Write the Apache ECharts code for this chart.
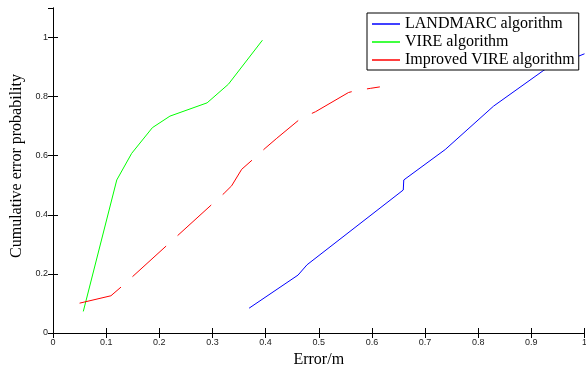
<!DOCTYPE html>
<html><head><meta charset="utf-8">
<script src="https://cdn.jsdelivr.net/npm/echarts@6/dist/echarts.min.js"></script>
<style>html,body{margin:0;padding:0;background:#fff}#c{width:586px;height:365px}</style>
</head><body><div id="c"></div>
<script>
const seriesNames = ['LANDMARC algorithm', 'VIRE algorithm', 'Improved VIRE algorithm'];
const landmarc = [[0.369,0.084],[0.461,0.196],[0.478,0.231],[0.659,0.484],[0.66,0.518],[0.738,0.621],[0.829,0.768],[0.924,0.89],[1.0,0.945]];
const vire = [[0.057,0.073],[0.12,0.518],[0.148,0.608],[0.187,0.695],[0.22,0.734],[0.29,0.779],[0.33,0.842],[0.394,0.991]];
const improved = [[0.05,0.101],[0.109,0.126],[0.129,0.157],[0.322,0.473],[0.336,0.498],[0.355,0.554],[0.377,0.589],[0.399,0.625],[0.421,0.659],[0.466,0.726],[0.494,0.749],[0.556,0.814],[0.569,0.82],[0.597,0.828],[0.615,0.833]];
const xTicks = [0,0.1,0.2,0.3,0.4,0.5,0.6,0.7,0.8,0.9,1];
const yTicks = [0,0.2,0.4,0.6,0.8,1];

const chart = echarts.init(document.getElementById('c'));
const tickFont = {fontFamily:'Liberation Sans, Arial, sans-serif', fontSize:9, color:'#222'};
const nameFont = {fontFamily:'Liberation Serif, Times New Roman, serif', fontSize:16, color:'#000'};
const axisCommon = {
  axisLine:{show:true, lineStyle:{color:'#000', width:1}},
  axisTick:{show:true, inside:true, length:5, lineStyle:{color:'#000'}},
  splitLine:{show:false}
};
chart.setOption({
  animation:false,
  grid:{left:53, right:1.5, top:8, bottom:32, containLabel:false, outerBoundsMode:'none'},
  legend:{
    orient:'vertical', left:367, top:13,
    data:seriesNames,
    backgroundColor:'#fff', borderColor:'#000', borderWidth:1,
    padding:[3,4,2,5], itemGap:2, itemWidth:28, itemHeight:1.5,
    icon:'rect', z:10,
    textStyle:{fontFamily:'Liberation Serif, Times New Roman, serif', fontSize:16, color:'#000'}
  },
  xAxis:[{
    type:'value', min:0, max:1, interval:0.1, position:'bottom',
    name:'Error/m', nameLocation:'middle', nameGap:14, nameTextStyle:nameFont,
    axisLabel:Object.assign({margin:5, formatter:v=>xTicks.includes(+v.toFixed(1))?String(+v.toFixed(1)):''}, tickFont),
    ...axisCommon
  },{
    type:'value', min:0, max:1, interval:0.1, position:'top',
    axisLabel:{show:false}, ...axisCommon
  }],
  yAxis:[{
    type:'value', min:0, max:1.1, interval:0.2, position:'left',
    name:'Cumulative error probability', nameLocation:'middle', nameGap:25,
    nameTextStyle:Object.assign({padding:[0,0,0,9]}, nameFont),
    axisLabel:Object.assign({margin:5, showMaxLabel:false, formatter:v=>yTicks.includes(+v.toFixed(1))?String(+v.toFixed(1)):''}, tickFont),
    ...axisCommon
  },{
    type:'value', min:0, max:1.1, interval:0.2, position:'right',
    axisLabel:{show:false}, ...axisCommon
  }],
  series:[
    {name:seriesNames[0], type:'line', data:landmarc, showSymbol:false, symbol:'none', color:'#0000ff', lineStyle:{color:'#0000ff', width:1}, z:2},
    {name:seriesNames[1], type:'line', data:vire, showSymbol:false, symbol:'none', color:'#00ff00', lineStyle:{color:'#00ff00', width:1}, z:2},
    {name:seriesNames[2], type:'line', data:improved, showSymbol:false, symbol:'none', color:'#ff0000', lineStyle:{color:'#ff0000', width:1, type:[45.5,15.5]}, z:2}
  ]
});
</script></body></html>
